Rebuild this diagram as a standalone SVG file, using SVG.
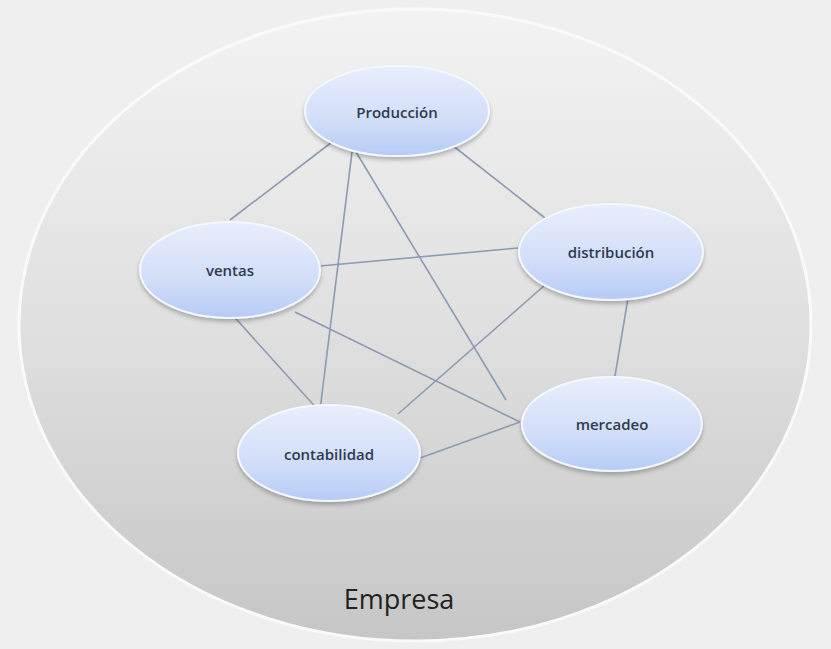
<svg xmlns="http://www.w3.org/2000/svg" width="831" height="649" viewBox="0 0 831 649">
<defs>
<linearGradient id="bg" x1="0" y1="0" x2="0" y2="1">
<stop offset="0" stop-color="#f3f3f3"/>
<stop offset="0.5" stop-color="#e0e0e0"/>
<stop offset="1" stop-color="#c6c6c6"/>
</linearGradient>
<linearGradient id="nd" x1="0" y1="0" x2="0" y2="1">
<stop offset="0" stop-color="#e8eefc"/>
<stop offset="0.6" stop-color="#d2def9"/>
<stop offset="1" stop-color="#b5cbf6"/>
</linearGradient>
<filter id="sh" x="-20%" y="-20%" width="140%" height="150%">
<feGaussianBlur in="SourceAlpha" stdDeviation="2"/>
<feOffset dy="3"/>
<feComponentTransfer><feFuncA type="linear" slope="0.25"/></feComponentTransfer>
<feMerge><feMergeNode/><feMergeNode in="SourceGraphic"/></feMerge>
</filter>
</defs>
<style>
.node ellipse{fill:url(#nd);stroke:#f4f8ff;stroke-width:2;filter:url(#sh)}
.node text{font-family:"Open Sans","Liberation Sans",sans-serif;font-size:15px;font-weight:600;fill:#2e3a4f;text-anchor:middle;dominant-baseline:central}
.conn line{stroke:#8c9bb1;stroke-width:1.6}
</style>
<rect width="831" height="649" fill="#efefef"/>
<g id="empresa">
<ellipse cx="415" cy="325" rx="396" ry="316" fill="url(#bg)" stroke="#fafafa" stroke-width="3"/>
<text x="399" y="598" font-family="'Open Sans','Liberation Sans',sans-serif" font-size="27" fill="#222" text-anchor="middle" dominant-baseline="central">Empresa</text>
</g>
<g id="connectors" class="conn">
<line x1="332" y1="142" x2="230" y2="220"/>
<line x1="452" y1="145" x2="545" y2="218"/>
<line x1="352" y1="152" x2="320" y2="410"/>
<line x1="356" y1="152" x2="506" y2="400"/>
<line x1="320" y1="266" x2="518" y2="248"/>
<line x1="228" y1="310" x2="320" y2="412"/>
<line x1="295" y1="312" x2="520" y2="422"/>
<line x1="545" y1="285" x2="398" y2="414"/>
<line x1="628" y1="298" x2="614" y2="382"/>
<line x1="420" y1="458" x2="520" y2="422"/>
</g>
<g id="produccion" class="node"><ellipse cx="397" cy="111" rx="92" ry="45"/><text x="397" y="112">Producción</text></g>
<g id="ventas" class="node"><ellipse cx="230" cy="270" rx="90" ry="48"/><text x="230" y="270">ventas</text></g>
<g id="distribucion" class="node"><ellipse cx="611" cy="252" rx="92" ry="48"/><text x="611" y="252">distribución</text></g>
<g id="mercadeo" class="node"><ellipse cx="612" cy="424" rx="90" ry="47"/><text x="612" y="424">mercadeo</text></g>
<g id="contabilidad" class="node"><ellipse cx="329" cy="453" rx="91" ry="48"/><text x="329" y="454">contabilidad</text></g>
</svg>
